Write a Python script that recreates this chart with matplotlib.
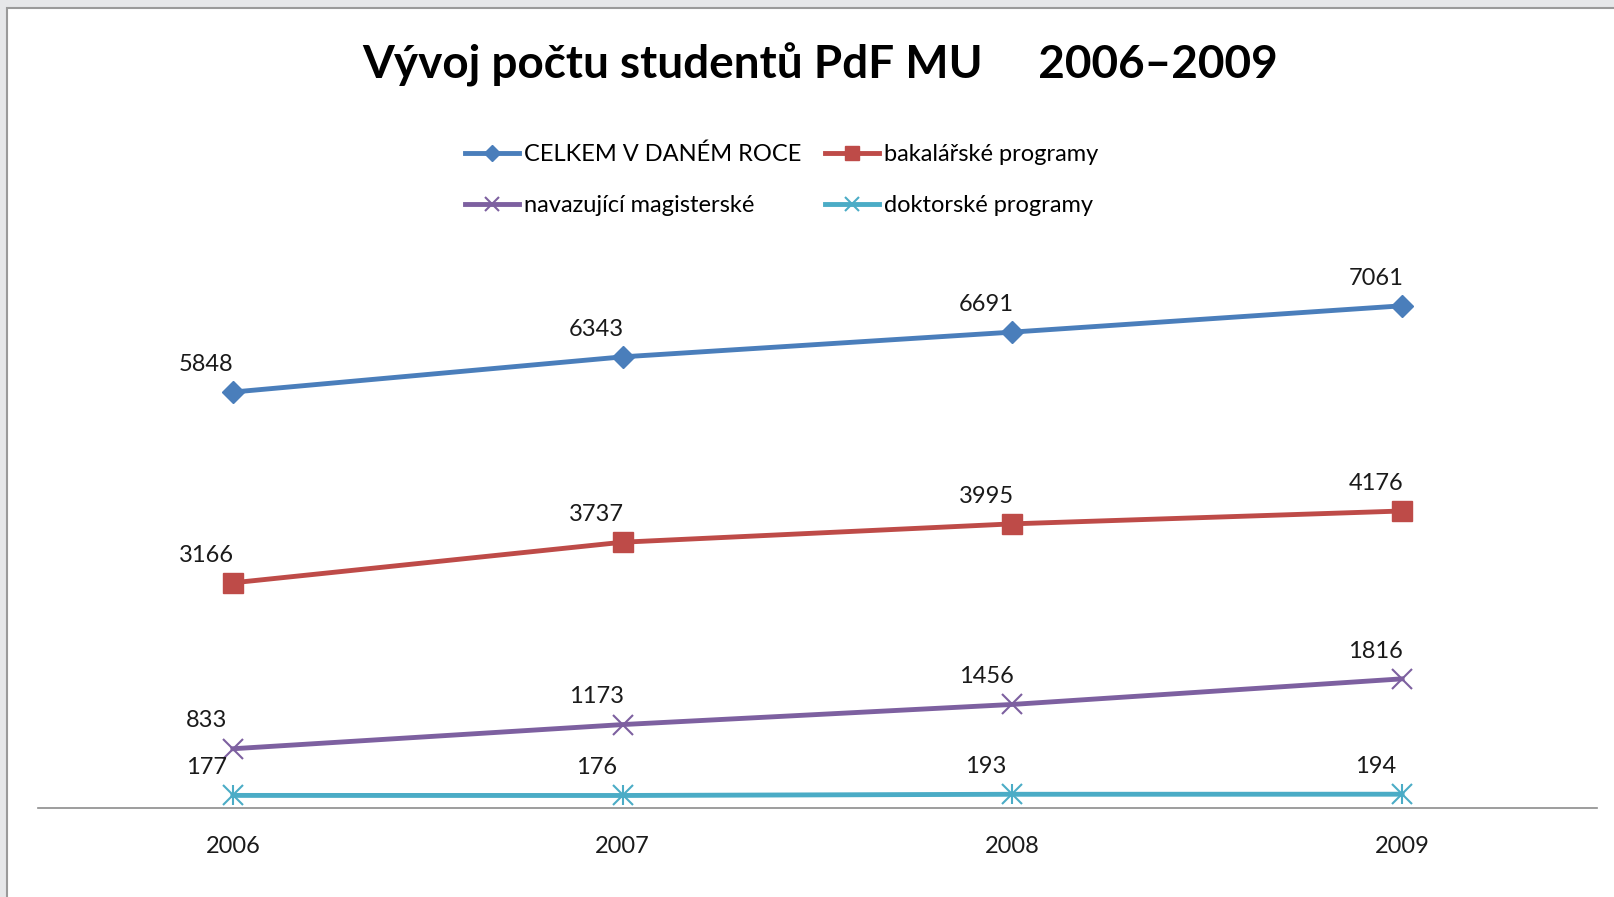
import matplotlib.pyplot as plt
from matplotlib.patches import Rectangle

# data
years = ['2006', '2007', '2008', '2009']
celkem = [5848, 6343, 6691, 7061]
bakalarske = [3166, 3737, 3995, 4176]
navazujici = [833, 1173, 1456, 1816]
doktorske = [177, 176, 193, 194]

plt.rcParams['font.family'] = ['Lato', 'DejaVu Sans']

fig = plt.figure(figsize=(16.15, 8.97), dpi=100)
fig.patch.set_facecolor('#e6e7e9')

# white chart panel with a thin grey edge
fig.patches.append(Rectangle((7 / 1615, -0.01), 1.02, 1 - 8 / 897 + 0.01,
                             transform=fig.transFigure, facecolor='white',
                             edgecolor='#9a9a9a', linewidth=1.5, zorder=-5))

ax = fig.add_axes([38 / 1615, 89 / 897, 1559 / 1615, 569 / 897])
ax.set_facecolor('none')

x = range(len(years))
series = [
    (celkem, 'CELKEM V DANÉM ROCE', '#4a7ebb', 'D', 11),
    (bakalarske, 'bakalářské programy', '#be4b48', 's', 14),
    (navazujici, 'navazující magisterské', '#7d60a0', 'x', 14),
    (doktorske, 'doktorské programy', '#4bacc6', '*', 0),
]

lines = []
for vals, name, col, mk, ms in series:
    if mk == '*':
        # excel style asterisk: an x with a vertical stroke
        l, = ax.plot(x, vals, color=col, lw=3.5, marker='x', ms=14, mew=1.5,
                     label=name)
        ax.plot(x, vals, ls='none', marker='|', ms=14, mew=1.5, color=col)
    elif mk == 'x':
        l, = ax.plot(x, vals, color=col, lw=3.5, marker=mk, ms=ms, mew=1.5,
                     label=name)
    else:
        l, = ax.plot(x, vals, color=col, lw=3.5, marker=mk, ms=ms, label=name)
    lines.append(l)
    for xi, v in zip(x, vals):
        ax.annotate(str(v), (xi, v), xytext=(-19, 20), textcoords='offset points',
                    ha='center', va='center', fontsize=17, color='#1a1a1a')

ax.set_xlim(-0.5, 3.5)
ax.set_ylim(0, 8000)
ax.set_xticks(list(x))
ax.set_xticklabels(years, fontsize=17, color='#1a1a1a')
ax.tick_params(axis='x', length=0, pad=20)
ax.set_yticks([])
for s in ['left', 'right', 'top']:
    ax.spines[s].set_visible(False)
ax.spines['bottom'].set_color('#8c8c8c')
ax.spines['bottom'].set_linewidth(1.2)

fig.text(0.508, 1 - 65 / 897, 'Vývoj počtu studentů PdF MU     2006–2009',
         ha='center', va='center', fontsize=33, fontweight='bold')

order = [lines[0], lines[2], lines[1], lines[3]]
fig.legend(order, [l.get_label() for l in order], ncol=2, frameon=False,
           loc='center', bbox_to_anchor=(0.484, 1 - 180 / 897), fontsize=17,
           handlelength=2.3, handletextpad=0.2, columnspacing=1.0,
           labelspacing=1.25, markerscale=0.75)

plt.savefig('out.png', dpi=100, facecolor=fig.get_facecolor())
